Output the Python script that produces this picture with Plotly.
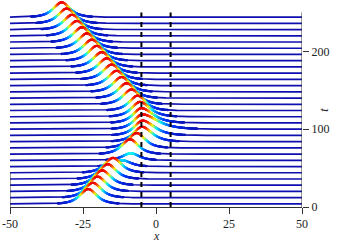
import plotly.graph_objects as go
import numpy as np

t_rows = [4, 12, 20, 28, 36, 44, 52, 60, 68, 76, 84, 92, 100, 108, 116, 124,
          132, 140, 148, 156, 164, 172, 180, 188, 196, 204, 212, 220, 228, 236, 244]
peak_x = [-23.2, -21.6, -20.0, -18.4, -16.5, -14.7, -11.5, -8.6, -8.9, -6.6, -4.8,
          -4.6, -4.7, -5.0, -5.5, -6.3, -8.4, -10.1, -11.8, -13.5, -15.2, -16.9,
          -18.6, -20.3, -22.0, -23.7, -25.4, -27.1, -28.8, -30.6, -32.3]
peak_h = [19, 19, 19, 19, 19, 19, 8, 9, 19, 19, 19, 19, 19, 19, 19, 19,
          19, 19, 19, 19, 19, 19, 19, 19, 19, 19, 19, 19, 19, 19, 19]
# width of the trailing (right) side of each pulse
right_w = [2.5, 2.5, 2.5, 2.5, 2.5, 2.5, 2.5, 2.5, 2.5, 2.5, 3.0, 3.5, 4.5, 3.5, 3.0, 2.5,
           2.5, 2.5, 2.5, 2.5, 2.5, 2.5, 2.5, 2.5, 2.5, 2.5, 2.5, 2.5, 2.5, 2.5, 2.5]
left_w = 2.5

xticks = [-50, -25, 0, 25, 50]
xticktext = ['-50', '-25', '0', '25', '50']
tticks = [0, 100, 200]
tticktext = ['0', '100', '200']

jet = [[0.0, 'rgb(15,15,175)'], [0.2, 'rgb(0,60,255)'], [0.45, 'rgb(0,240,255)'],
       [0.65, 'rgb(240,255,0)'], [0.85, 'rgb(255,60,0)'], [1.0, 'rgb(235,0,0)']]
base_col = 'rgb(15,15,175)'
umax = max(peak_h)

x = np.linspace(-50, 50, 801)
fig = go.Figure()

# back rows first, front rows (small t) last so they hide what is behind
for k in range(len(t_rows) - 1, -1, -1):
    t0 = t_rows[k]
    w = np.where(x < peak_x[k], left_w, right_w[k])
    u = peak_h[k] / np.cosh((x - peak_x[k]) / w)
    y = t0 + u
    fig.add_trace(go.Scatter(
        x=np.concatenate([x, x[::-1]]), y=np.concatenate([y, np.full_like(x, t0)]),
        fill='toself', fillcolor='white', line=dict(width=0), mode='lines',
        hoverinfo='skip', showlegend=False))
    fig.add_trace(go.Scatter(x=x, y=y, mode='lines', line=dict(color=base_col, width=1.7),
                             hoverinfo='skip', showlegend=False))
    m = u > 0.03 * umax
    fig.add_trace(go.Scatter(
        x=x[m], y=y[m], mode='markers', hoverinfo='skip', showlegend=False,
        marker=dict(size=2.3, color=u[m], colorscale=jet, cmin=0, cmax=umax,
                    line=dict(width=0))))

# barrier edges
for xb in [-5, 5]:
    fig.add_shape(type='line', x0=xb, x1=xb, y0=0, y1=250, layer='above',
                  line=dict(color='black', width=2, dash='5px,5px'))
fig.add_shape(type='line', x0=50, x1=50, y0=0, y1=250, layer='above',
              line=dict(color='#333', width=1))
fig.add_shape(type='line', x0=-50, x1=-50, y0=0, y1=45, layer='above',
              line=dict(color='#333', width=1))

font = dict(family='Liberation Serif', size=12, color='#222')
fig.update_layout(
    width=341, height=242, margin=dict(l=10, r=39, t=0, b=35),
    paper_bgcolor='white', plot_bgcolor='white', font=font,
    xaxis=dict(range=[-50, 50], tickvals=xticks, ticktext=xticktext, ticks='outside',
               ticklen=6, tickcolor='#333', showline=True, linecolor='#333', linewidth=1,
               showgrid=False, zeroline=False, automargin=False),
    yaxis=dict(range=[0, 266], side='right', tickvals=tticks, ticktext=tticktext,
               ticks='outside', ticklen=6, tickcolor='#333', showline=False,
               showgrid=False, zeroline=False, automargin=False),
    annotations=[
        dict(text='<i>x</i>', xref='x', yref='paper', x=0, y=-0.138, showarrow=False,
             yanchor='middle', font=font),
        dict(text='<i>t</i>', xref='paper', yref='paper', x=1.106, y=0.47, showarrow=False,
             textangle=-90, font=font),
    ])

fig.write_html('out.html', config={'displayModeBar': False},
               post_script="document.body.style.margin='0px';")
